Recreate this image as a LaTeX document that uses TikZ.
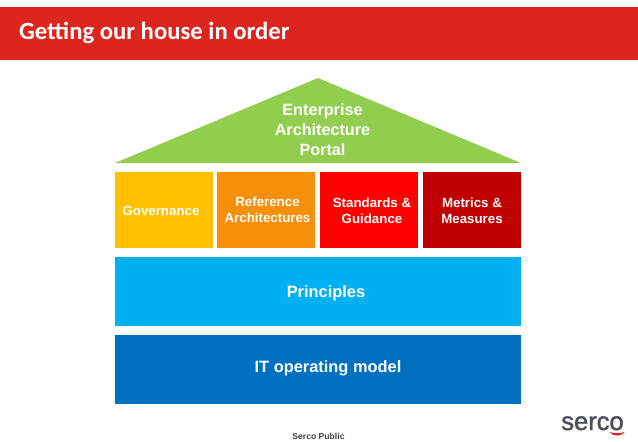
\documentclass[tikz,border=0pt]{standalone}
\usepackage{fontspec}
\setmainfont{Liberation Sans}
\newfontfamily\titlefont{Carlito}
\newfontfamily\logofont[FakeBold=1.6]{Liberation Sans}
\usetikzlibrary{calc,positioning}
\definecolor{bannerred}{HTML}{DC251E}
\definecolor{roofgreen}{HTML}{92CD50}
\definecolor{govyellow}{HTML}{FFC000}
\definecolor{reforange}{HTML}{F79008}
\definecolor{stdred}{HTML}{FF0000}
\definecolor{metdark}{HTML}{C00000}
\definecolor{prinblue}{HTML}{00B0F0}
\definecolor{itblue}{HTML}{0070C0}
\definecolor{logogrey}{HTML}{4A5058}
\tikzset{
  pillar/.style={fill=#1, minimum width=98pt, minimum height=76pt, inner sep=0pt},
  floor/.style={fill=#1, minimum width=406pt, minimum height=69pt, inner sep=0pt},
  pillartext/.style={text=white, inner sep=0pt, align=center, font=\fontsize{13.3}{16}\selectfont\bfseries},
  floortext/.style={text=white, inner sep=0pt, font=\fontsize{16.4}{20}\selectfont\bfseries}
}
\begin{document}
\begin{tikzpicture}[x=1pt,y=-1pt]
    \useasboundingbox (0,0) rectangle (638,442);

    % banner
    \fill[bannerred] (0,7) rectangle (638,60);
    \node[anchor=west, text=white, inner sep=0pt, font=\titlefont\fontsize{24.7}{28}\selectfont\bfseries] (title) at (19,32.5) {Getting our house in order};

    % roof
    \coordinate (roofL) at (115,163);
    \coordinate (roofR) at (521,163);
    \coordinate (roofT) at (318,78);
    \fill[roofgreen] (roofL) -- (roofT) -- (roofR) -- cycle;
    \node[text=white, inner sep=0pt, align=center, font=\fontsize{16.2}{20}\selectfont\bfseries] (portal) at (322.5,129.5) {Enterprise\\Architecture\\Portal};

    % pillars
    \node[pillar=govyellow] (gov) at (164,210) {};
    \node[pillar=reforange] (ref) at (266,210) {};
    \node[pillar=stdred] (std) at (369,210) {};
    \node[pillar=metdark] (met) at (471.5,210) {};
    \node[pillartext] (govtext) at ($(gov)+(-3,1)$) {Governance};
    \node[pillartext] (reftext) at ($(ref)+(1.5,-0.5)$) {Reference\\Architectures};
    \node[pillartext] (stdtext) at ($(std)+(3,0.5)$) {Standards \&\\Guidance};
    \node[pillartext] (mettext) at ($(met)+(0.5,0.5)$) {Metrics \&\\Measures};

    % floors
    \node[floor=prinblue] (prin) at (318,291.5) {};
    \node[floor=itblue] (itop) at (318,369.5) {};
    \node[floortext] (printext) at ($(prin)+(8,1.5)$) {Principles};
    \node[floortext] (ittext) at ($(itop)+(10,-1)$) {IT operating model};

    % footer
    \node[font=\fontsize{8.6}{11}\selectfont\bfseries, text=black!75, inner sep=0pt] (public) at (318.5,436) {Serco Public};

    % logo
    \node[anchor=base, font=\logofont\fontsize{25.5}{26}\selectfont, text=logogrey, inner sep=0pt] (logo) at (592.5,430) {serco};
    \fill[bannerred] (609.5,432) .. controls (614,433.5) and (620,433.5) .. (624.5,432) .. controls (621,436.8) and (613,436.8) .. (609.5,432) -- cycle;
  \end{tikzpicture}
\end{document}
